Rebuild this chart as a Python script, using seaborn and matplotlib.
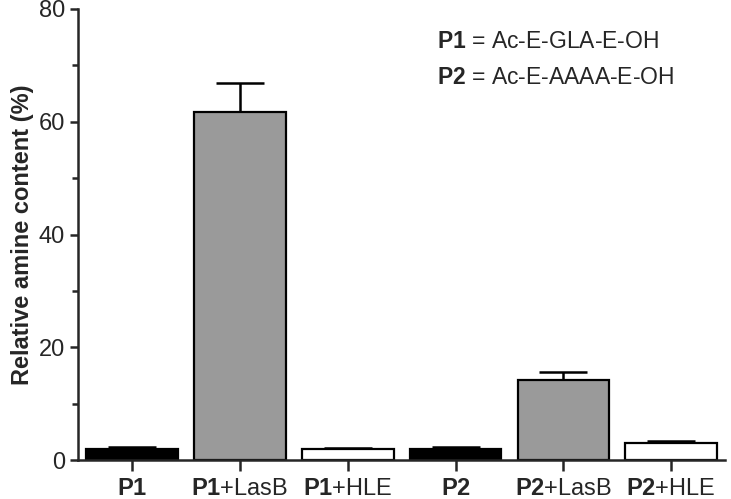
import matplotlib
matplotlib.use('Agg')
import matplotlib.pyplot as plt
from matplotlib.ticker import MultipleLocator
import pandas as pd
import seaborn as sns

# Data
groups = ['P1', 'P1+LasB', 'P1+HLE', 'P2', 'P2+LasB', 'P2+HLE']
tick_labels = [r'$\mathbf{P1}$', r'$\mathbf{P1}$+LasB', r'$\mathbf{P1}$+HLE',
               r'$\mathbf{P2}$', r'$\mathbf{P2}$+LasB', r'$\mathbf{P2}$+HLE']
amine = [2.05, 61.8, 1.9, 2.05, 14.2, 3.0]
sem = [0.2, 5.1, 0.2, 0.2, 1.4, 0.35]
bar_colors = ['#000000', '#9a9a9a', '#ffffff', '#000000', '#9a9a9a', '#ffffff']

df = pd.DataFrame({'group': groups, 'amine': amine, 'sem': sem})

sns.set_style('ticks')
plt.rcParams['font.family'] = ['Liberation Sans', 'DejaVu Sans']
plt.rcParams['mathtext.fontset'] = 'custom'
plt.rcParams['mathtext.rm'] = 'Liberation Sans'
plt.rcParams['mathtext.bf'] = 'Liberation Sans:bold'

fig = plt.figure(figsize=(7.31, 4.99), dpi=100)
ax = fig.add_axes([0.107, 0.078, 0.885, 0.904])

sns.barplot(data=df, x='group', y='amine', hue='group', palette=bar_colors,
            width=0.85, edgecolor='black', linewidth=1.6, legend=False, ax=ax)

# upward-only error bars
eb = ax.errorbar(range(len(groups)), df['amine'], yerr=[[0] * len(sem), df['sem']],
                 fmt='none', ecolor='black', elinewidth=1.8, capsize=17, capthick=1.8,
                 zorder=1)
eb[1][0].set_visible(False)  # hide the lower caps

ax.set_ylim(0, 80)
ax.set_xlim(-0.5, 5.5)
ax.yaxis.set_major_locator(MultipleLocator(20))
ax.yaxis.set_minor_locator(MultipleLocator(10))
ax.set_xticks(range(len(groups)))
ax.set_xticklabels(tick_labels, fontsize=17)
ax.tick_params(axis='y', labelsize=17, width=1.8, length=6)
ax.tick_params(axis='y', which='minor', width=1.8, length=4)
ax.tick_params(axis='x', width=1.8, length=8, pad=5)
ax.set_xlabel('')
ax.set_ylabel('Relative amine content (%)', fontsize=17, fontweight='bold', labelpad=3)

sns.despine(ax=ax)
for side in ['left', 'bottom']:
    ax.spines[side].set_linewidth(1.8)

ax.text(0.555, 0.927, r'$\mathbf{P1}$ = Ac-E-GLA-E-OH', transform=ax.transAxes,
        fontsize=16.5, va='center', ha='left')
ax.text(0.555, 0.847, r'$\mathbf{P2}$ = Ac-E-AAAA-E-OH', transform=ax.transAxes,
        fontsize=16.5, va='center', ha='left')

fig.savefig('out.png', dpi=100)
